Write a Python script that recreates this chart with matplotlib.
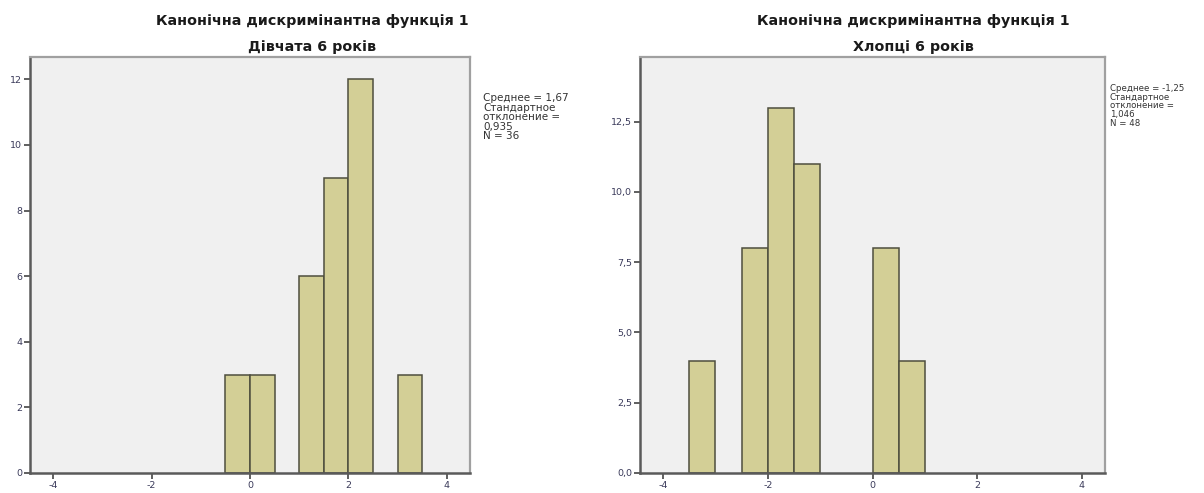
import matplotlib.pyplot as plt
from matplotlib.ticker import FuncFormatter

# histogram data: left edge of each bin and its count (bin width 0.5)
bin_width = 0.5
girls_edges = [-0.5, 0.0, 1.0, 1.5, 2.0, 3.0]
girls_counts = [3, 3, 6, 9, 12, 3]
boys_edges = [-3.5, -2.5, -2.0, -1.5, 0.0, 0.5]
boys_counts = [4, 8, 13, 11, 8, 4]

suptitle = 'Канонічна дискримінантна функція 1'
girls_title = 'Дівчата 6 років'
boys_title = 'Хлопці 6 років'
girls_stats = 'Среднее = 1,67\nСтандартное\nотклонение =\n0,935\nN = 36'
boys_stats = 'Среднее = -1,25\nСтандартное\nотклонение =\n1,046\nN = 48'

x_ticks = [-4, -2, 0, 2, 4]
girls_yticks = [0, 2, 4, 6, 8, 10, 12]
boys_yticks = [0, 2.5, 5, 7.5, 10, 12.5]

bar_face = '#d3cf96'
bar_edge = '#4e4e3e'
tick_col = '#3a3a5a'

fig = plt.figure(figsize=(12.04, 4.93), dpi=100)
ax1 = fig.add_axes([0.0249, 0.0406, 0.3655, 0.8438])
ax2 = fig.add_axes([0.5316, 0.0406, 0.3862, 0.8438])


def style(ax, xlim, ylim, yticks, fmt):
    ax.set_facecolor('#f0f0f0')
    ax.set_xlim(*xlim)
    ax.set_ylim(*ylim)
    ax.set_xticks(x_ticks)
    ax.set_yticks(yticks)
    ax.yaxis.set_major_formatter(FuncFormatter(fmt))
    ax.xaxis.set_major_formatter(FuncFormatter(lambda v, p: f'{v:.0f}'))
    ax.tick_params(axis='both', labelsize=6.8, colors='#444444', labelcolor=tick_col,
                   width=1.2, length=4, pad=1.5)
    for side in ('left', 'bottom'):
        ax.spines[side].set_color('#5a5a5a')
        ax.spines[side].set_linewidth(1.8)
    for side in ('top', 'right'):
        ax.spines[side].set_color('#a0a0a0')
        ax.spines[side].set_linewidth(1.6)


ax1.bar(girls_edges, girls_counts, width=bin_width, align='edge',
        color=bar_face, edgecolor=bar_edge, linewidth=1.1, zorder=2)
style(ax1, (-4.47, 4.47), (0, 12.68), girls_yticks, lambda v, p: f'{v:.0f}')

ax2.bar(boys_edges, boys_counts, width=bin_width, align='edge',
        color=bar_face, edgecolor=bar_edge, linewidth=1.1, zorder=2)
style(ax2, (-4.44, 4.44), (0, 14.8), boys_yticks, lambda v, p: f'{v:.1f}'.replace('.', ','))

# titles sit over each panel plus its statistics column
title_kw = dict(ha='center', va='center', fontsize=10.3, fontweight='bold', color='#1a1a1a')
fig.text(312 / 1204, 1 - 21 / 493, suptitle, **title_kw)
fig.text(312 / 1204, 1 - 47 / 493, girls_title, **title_kw)
fig.text(913 / 1204, 1 - 21 / 493, suptitle, **title_kw)
fig.text(913 / 1204, 1 - 47 / 493, boys_title, **title_kw)

fig.text(483 / 1204, 1 - 93 / 493, girls_stats, ha='left', va='top',
         fontsize=7.5, color='#333333', linespacing=0.95)
fig.text(1110 / 1204, 1 - 84 / 493, boys_stats, ha='left', va='top',
         fontsize=6.2, color='#333333', linespacing=0.95)

fig.savefig('out.png', dpi=100, facecolor='white')
